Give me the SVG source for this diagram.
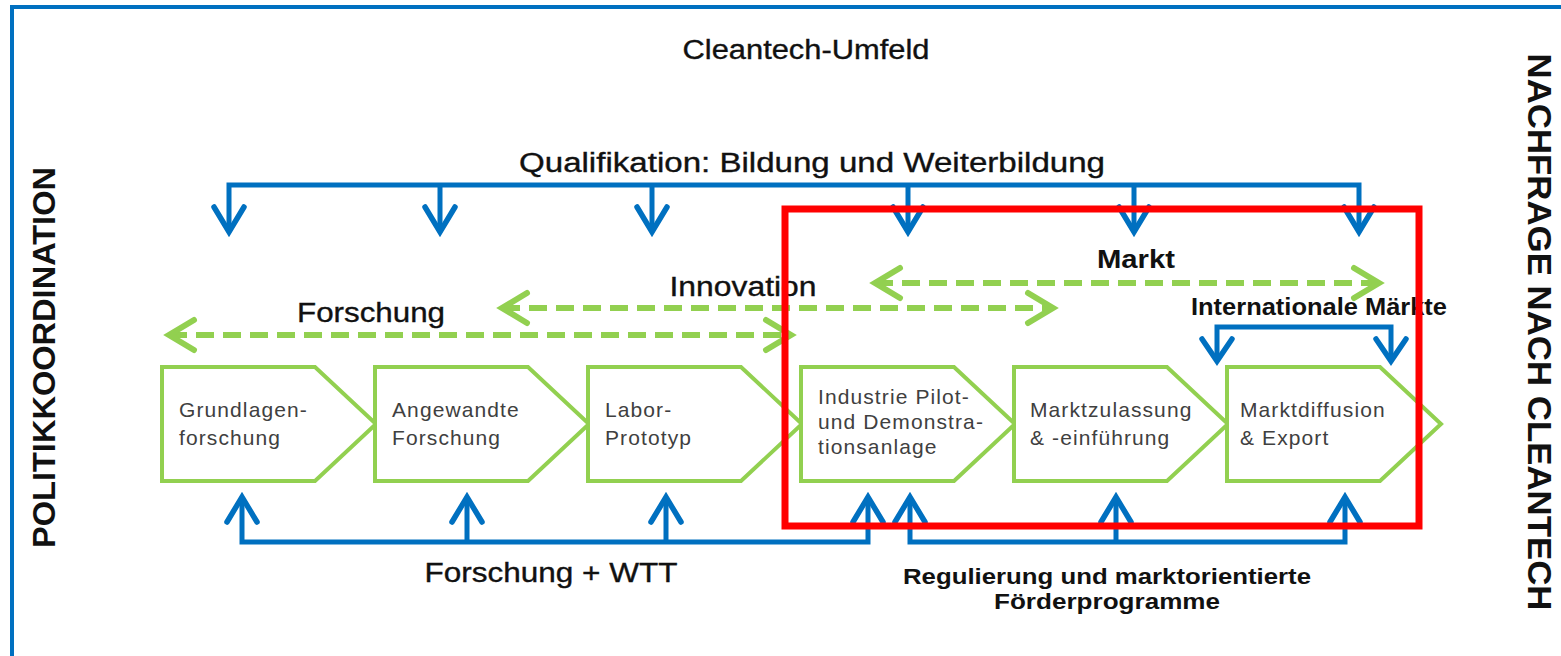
<svg xmlns="http://www.w3.org/2000/svg" width="1561" height="656" viewBox="0 0 1561 656">
<style>
  .t{font-family:"Liberation Sans",Arial,Helvetica,sans-serif;fill:#111}
  .m{stroke:#111;stroke-width:0.35}
  .b{font-weight:bold}
  .node{fill:#fff;stroke:#92D050;stroke-width:4;stroke-linejoin:miter}
  .nt{font-family:"Liberation Sans",Arial,Helvetica,sans-serif;font-size:21px;fill:#404040;letter-spacing:1.1px}
  .bl{fill:none;stroke:#0070C0;stroke-width:5;stroke-linejoin:miter}
  .bh{fill:none;stroke:#0070C0;stroke-width:5.5;stroke-linejoin:miter;stroke-linecap:round}
  .gd{fill:none;stroke:#92D050;stroke-width:6;stroke-dasharray:18 9}
  .gh{fill:none;stroke:#92D050;stroke-width:6;stroke-linejoin:miter;stroke-linecap:round}
</style>
<rect x="0" y="0" width="1561" height="656" fill="#fff"/>
<!-- outer frame -->
<rect x="12" y="7" width="1600" height="700" fill="none" stroke="#0070C0" stroke-width="4"/>

<g id="connectors">
  <!-- Qualifikation bar -->
  <path class="bl" d="M229,232 V185 H1359 V232 M440,185 V232 M652,185 V232 M908,185 V232 M1134,185 V232"/>
  <path class="bh" d="M214,207 L229,232 L244,207 M425,207 L440,232 L455,207 M637,207 L652,232 L667,207 M893,207 L908,232 L923,207 M1119,207 L1134,232 L1149,207 M1344,207 L1359,232 L1374,207"/>
  <!-- Forschung + WTT -->
  <path class="bl" d="M242,497 V542 H868 V497 M467,542 V497 M666,542 V497"/>
  <path class="bh" d="M227,522 L242,497 L257,522 M452,522 L467,497 L482,522 M651,522 L666,497 L681,522 M853,522 L868,497 L883,522"/>
  <!-- Regulierung -->
  <path class="bl" d="M910,497 V542 H1345 V497 M1116,542 V497"/>
  <path class="bh" d="M895,522 L910,497 L925,522 M1101,522 L1116,497 L1131,522 M1330,522 L1345,497 L1360,522"/>
  <!-- Internationale Maerkte bracket -->
  <path class="bl" d="M1217,361 V327 H1391 V361"/>
  <path class="bh" d="M1202,339 L1217,361 L1232,339 M1376,339 L1391,361 L1406,339"/>
  <!-- green dashed double arrows -->
  <path class="gd" d="M169,335 H791"/>
  <path class="gh" d="M194,320 L169,335 L194,350 M766,320 L791,335 L766,350"/>
  <path class="gd" d="M502,308 H1053"/>
  <path class="gh" d="M527,293 L502,308 L527,323 M1028,293 L1053,308 L1028,323"/>
  <path class="gd" d="M875,283 H1379"/>
  <path class="gh" d="M900,268 L875,283 L900,298 M1354,268 L1379,283 L1354,298"/>
</g>

<g id="node1">
  <polygon class="node" points="162,367 315,367 376,424 315,481 162,481"/>
  <text class="nt" x="179" y="417">Grundlagen-</text>
  <text class="nt" x="179" y="445">forschung</text>
</g>
<g id="node2">
  <polygon class="node" points="375,367 528,367 589,424 528,481 375,481"/>
  <text class="nt" x="392" y="417">Angewandte</text>
  <text class="nt" x="392" y="445">Forschung</text>
</g>
<g id="node3">
  <polygon class="node" points="588,367 741,367 802,424 741,481 588,481"/>
  <text class="nt" x="605" y="417">Labor-</text>
  <text class="nt" x="605" y="445">Prototyp</text>
</g>
<g id="node4">
  <polygon class="node" points="801,367 954,367 1015,424 954,481 801,481"/>
  <text class="nt" x="818" y="404">Industrie Pilot-</text>
  <text class="nt" x="818" y="429">und Demonstra-</text>
  <text class="nt" x="818" y="454">tionsanlage</text>
</g>
<g id="node5">
  <polygon class="node" points="1014,367 1167,367 1228,424 1167,481 1014,481"/>
  <text class="nt" x="1030" y="417">Marktzulassung</text>
  <text class="nt" x="1030" y="445">&amp; -einführung</text>
</g>
<g id="node6">
  <polygon class="node" points="1227,367 1380,367 1441,424 1380,481 1227,481"/>
  <text class="nt" x="1240" y="417">Marktdiffusion</text>
  <text class="nt" x="1240" y="445">&amp; Export</text>
</g>

<g id="labels">
  <text class="t m" x="806" y="59" font-size="27" text-anchor="middle" textLength="247" lengthAdjust="spacingAndGlyphs">Cleantech-Umfeld</text>
  <text class="t m" x="812" y="172" font-size="27" text-anchor="middle" textLength="586" lengthAdjust="spacingAndGlyphs">Qualifikation:  Bildung  und  Weiterbildung</text>
  <text class="t m" x="371" y="322" font-size="27" text-anchor="middle" textLength="148" lengthAdjust="spacingAndGlyphs">Forschung</text>
  <text class="t m" x="743" y="296" font-size="27" text-anchor="middle" textLength="147" lengthAdjust="spacingAndGlyphs">Innovation</text>
  <text class="t b" x="1136" y="268" font-size="26" text-anchor="middle" textLength="78" lengthAdjust="spacingAndGlyphs">Markt</text>
  <text class="t b" x="1191" y="315" font-size="23" textLength="256" lengthAdjust="spacingAndGlyphs">Internationale Märkte</text>
  <text class="t m" x="551" y="582" font-size="27" text-anchor="middle" textLength="253" lengthAdjust="spacingAndGlyphs">Forschung  + WTT</text>
  <text class="t b" x="1107" y="584" font-size="22" text-anchor="middle" textLength="408" lengthAdjust="spacingAndGlyphs">Regulierung und marktorientierte</text>
  <text class="t b" x="1107" y="609" font-size="22" text-anchor="middle" textLength="226" lengthAdjust="spacingAndGlyphs">Förderprogramme</text>
  <text class="t b" transform="translate(55,357.5) rotate(-90)" font-size="32" text-anchor="middle" textLength="381" lengthAdjust="spacingAndGlyphs">POLITIKKOORDINATION</text>
  <text class="t b" transform="translate(1528,332) rotate(90)" font-size="34" text-anchor="middle" textLength="557" lengthAdjust="spacingAndGlyphs">NACHFRAGE NACH CLEANTECH</text>
</g>

<rect id="highlight" x="785" y="209" width="634" height="317" fill="none" stroke="#FF0000" stroke-width="7"/>
</svg>
